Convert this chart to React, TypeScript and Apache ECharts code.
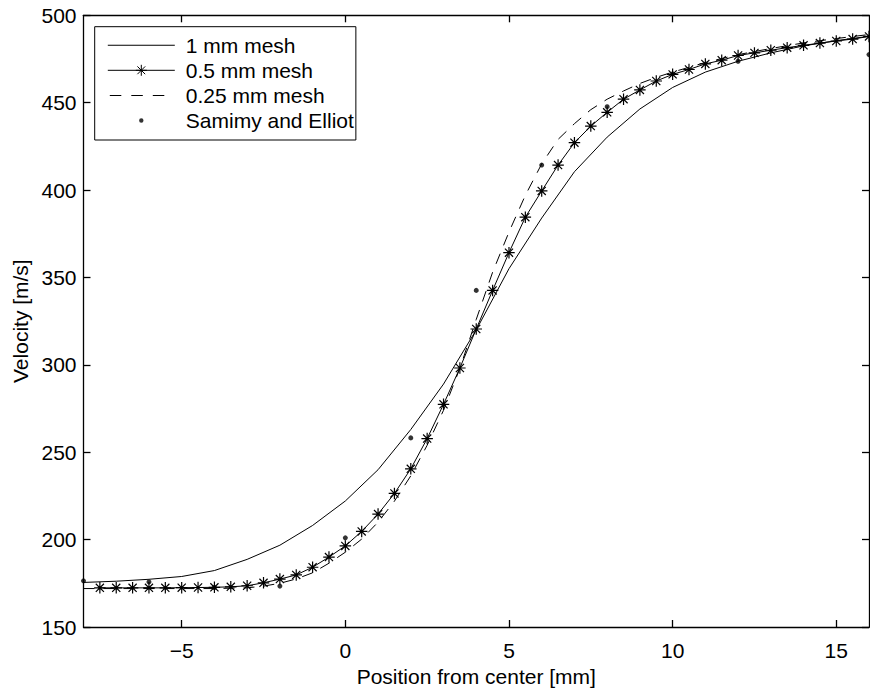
import React, { useEffect, useRef } from 'react';
import * as echarts from 'echarts';

// 1 mm mesh (solid line)
const mesh1X = [-8, -7, -6, -5, -4, -3, -2, -1, 0, 1, 2, 3, 4, 5, 6, 7, 8, 9, 10, 11, 12, 13, 14, 15, 16];
const mesh1Y = [175.5, 176.2, 177.3, 178.9, 182.3, 188.7, 196.8, 208.1, 222.1, 240, 263, 289, 320, 355, 384, 410.5, 430.3, 446.4, 458.7, 467.5, 473.7, 478.5, 482.5, 485.5, 488];

// 0.5 mm mesh (solid line with stars)
const mesh05X = [-7.5, -7, -6.5, -6, -5.5, -5, -4.5, -4, -3.5, -3, -2.5, -2, -1.5, -1, -0.5, 0, 0.5, 1, 1.5, 2, 2.5, 3, 3.5, 4, 4.5, 5, 5.5, 6, 6.5, 7, 7.5, 8, 8.5, 9, 9.5, 10, 10.5, 11, 11.5, 12, 12.5, 13, 13.5, 14, 14.5, 15, 15.5, 16];
const mesh05Y = [172.4, 172.4, 172.4, 172.4, 172.4, 172.5, 172.6, 172.7, 173, 173.6, 175.3, 177.4, 179.8, 184.2, 190, 196.4, 204.7, 214.6, 226.4, 240.5, 257.8, 277.4, 298.2, 320.5, 342.6, 364.2, 384.5, 399.5, 414.3, 427.1, 436.6, 444.5, 452, 457.3, 462.4, 466.2, 469, 472.2, 474.3, 477, 478.5, 480, 481.5, 482.8, 484.1, 485.3, 486.4, 487.9];

// 0.25 mm mesh (dashed line)
const mesh025X = [-8, -7, -6, -5, -4, -3, -2.5, -2, -1.5, -1, -0.5, 0, 0.5, 1, 1.5, 2, 2.5, 3, 3.5, 4, 4.5, 5, 5.5, 6, 6.5, 7, 7.5, 8, 8.5, 9, 9.5, 10, 11, 12, 13, 14, 15, 16];
const mesh025Y = [172, 172, 172, 172, 172, 172.4, 173.4, 175, 177.5, 181, 186.5, 192.8, 200.3, 210, 222, 236.5, 254, 274, 298, 326, 353, 376, 397, 415, 429, 438, 446, 452, 456.7, 461, 464.5, 467.5, 473, 477.5, 481, 484.2, 486.7, 489];

// Samimy and Elliot (experimental dots)
const expX = [-8, -6, -4, -2, 0, 2, 4, 6, 8, 10, 12, 14, 16];
const expY = [176.4, 175.8, 172.6, 173.4, 201, 258.2, 342.6, 414.3, 447.7, 466.5, 473.7, 483, 477.5];

const xTicks = [-5, 0, 5, 10, 15];
const seriesNames = ['1 mm mesh', '0.5 mm mesh', '0.25 mm mesh', 'Samimy and Elliot'];

const zip = (xs: number[], ys: number[]) => xs.map((x, i) => [x, ys[i]]);

const STAR = 'path://M0 5 L10 5 M5 0 L5 10 M1.46 1.46 L8.54 8.54 M8.54 1.46 L1.46 8.54';
// legend icons (67 x 14 box)
const SOLID_ICON = 'path://M0 6.5 L67 6.5 L67 7.5 L0 7.5 Z';
const STAR_ICON = 'path://M0 7 L67 7 M28 7 L39 7 M33.5 1.5 L33.5 12.5 M29.6 3.1 L37.4 10.9 M37.4 3.1 L29.6 10.9';
const DASH_ICON = 'path://M0 7 L0 7 M67 7 L67 7 M2 6.5 L13.5 6.5 L13.5 7.5 L2 7.5 Z M23.5 6.5 L35 6.5 L35 7.5 L23.5 7.5 Z M45 6.5 L56.5 6.5 L56.5 7.5 L45 7.5 Z';
const DOT_ICON = 'path://M0 0 L0 0 M67 14 L67 14 M31.3 7 A2.2 2.2 0 1 1 35.7 7 A2.2 2.2 0 1 1 31.3 7 Z';

const FONT = 'Liberation Sans, Arial, Helvetica, sans-serif';
const FS = 21;

export default function App() {
  const ref = useRef<HTMLDivElement>(null);
  useEffect(() => {
    const chart = echarts.init(ref.current!, null, { renderer: 'svg' });
    const axisLine = { show: true, onZero: false, lineStyle: { color: '#000', width: 1.3 } };
    const tick = (customValues?: number[]) => ({
      show: true, inside: true, length: 7, ...(customValues ? { customValues } : {}),
      lineStyle: { color: '#000', width: 1.3 },
    });
    const option: any = {
      animation: false,
      backgroundColor: '#fff',
      textStyle: { fontFamily: FONT },
      grid: { left: 83.5, right: 1, top: 15.3, bottom: 58.7, containLabel: false },
      legend: {
        orient: 'vertical',
        left: 94.7,
        top: 26.7,
        padding: [8, 2, 9, 12.6],
        backgroundColor: '#fff',
        borderColor: '#000',
        borderWidth: 1,
        itemWidth: 67,
        itemHeight: 14,
        itemGap: 4.1,
        selectedMode: false,
        textStyle: { fontSize: FS, color: '#000', fontFamily: FONT, padding: [0, 0, 0, 6], lineHeight: 20.3 },
        data: [
          { name: seriesNames[0], icon: SOLID_ICON, itemStyle: { color: '#000', borderWidth: 0 } },
          { name: seriesNames[1], icon: STAR_ICON, itemStyle: { color: 'rgba(0,0,0,0)', borderColor: '#000', borderWidth: 1 } },
          { name: seriesNames[2], icon: DASH_ICON, itemStyle: { color: '#000', borderWidth: 0 } },
          { name: seriesNames[3], icon: DOT_ICON, itemStyle: { color: '#000', borderWidth: 0 } },
        ],
      },
      xAxis: [
        {
          type: 'value', position: 'bottom', min: -8, max: 16,
          axisLine, splitLine: { show: false },
          axisTick: tick(xTicks),
          axisLabel: {
            show: true, customValues: xTicks, margin: 13, color: '#000', fontSize: FS, fontFamily: FONT,
            formatter: (v: number) => String(v).replace('-', '\u2212'),
          },
          name: 'Position from center [mm]', nameLocation: 'middle', nameGap: 39,
          nameTextStyle: { fontSize: FS, color: '#000', fontFamily: FONT },
        },
        {
          type: 'value', position: 'top', min: -8, max: 16,
          axisLine, splitLine: { show: false },
          axisTick: tick(xTicks),
          axisLabel: { show: false },
        },
      ],
      yAxis: [
        {
          type: 'value', position: 'left', min: 150, max: 500, interval: 50,
          axisLine, splitLine: { show: false },
          axisTick: tick(),
          axisLabel: { show: true, margin: 7, color: '#000', fontSize: FS, fontFamily: FONT },
          name: 'Velocity [m/s]', nameLocation: 'middle', nameGap: 53,
          nameTextStyle: { fontSize: FS, color: '#000', fontFamily: FONT },
        },
        {
          type: 'value', position: 'right', min: 150, max: 500, interval: 50,
          axisLine, splitLine: { show: false },
          axisTick: tick(),
          axisLabel: { show: false },
        },
      ],
      series: [
        {
          name: seriesNames[0], type: 'line', data: zip(mesh1X, mesh1Y), symbol: 'none',
          lineStyle: { color: '#000', width: 1 }, itemStyle: { color: '#000' }, silent: true,
        },
        {
          name: seriesNames[1], type: 'line', data: zip(mesh05X, mesh05Y), symbol: STAR, symbolSize: 11.5,
          showSymbol: true,
          lineStyle: { color: '#000', width: 1 },
          itemStyle: { color: 'rgba(0,0,0,0)', borderColor: '#000', borderWidth: 1.2 }, silent: true,
        },
        {
          name: seriesNames[2], type: 'line', data: zip(mesh025X, mesh025Y), symbol: 'none',
          lineStyle: { color: '#000', width: 1, type: [11, 9] }, itemStyle: { color: '#000' }, silent: true,
        },
        {
          name: seriesNames[3], type: 'scatter', data: zip(expX, expY), symbol: 'circle', symbolSize: 5,
          itemStyle: { color: '#000' }, silent: true,
        },
      ],
    };
    chart.setOption(option);
    return () => chart.dispose();
  }, []);
  return (
    <div
      ref={ref}
      style={{ position: 'fixed', left: 0, top: 0, width: 870, height: 692, background: '#fff' }}
    />
  );
}
